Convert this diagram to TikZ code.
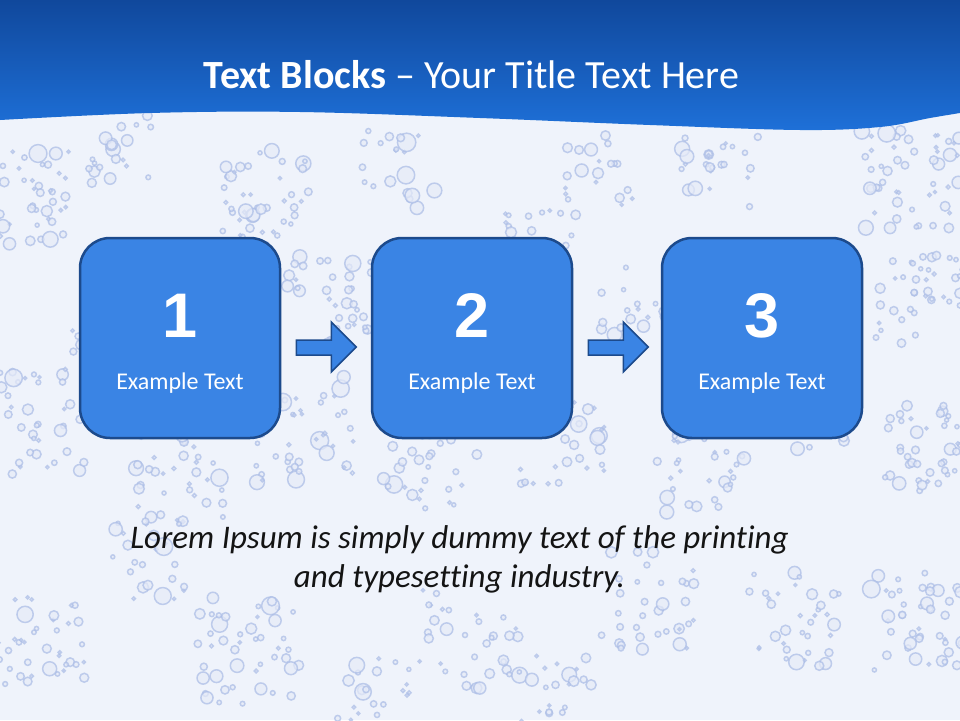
\documentclass[tikz,border=0pt]{standalone}
\usepackage{fontspec}
\setmainfont[Ligatures=NoCommon]{Carlito}
\newfontfamily\digitfont{Liberation Sans}
\usetikzlibrary{calc}
\definecolor{bgcol}{RGB}{239,243,251}
\definecolor{bubcol}{RGB}{170,188,230}
\definecolor{hdrtop}{RGB}{16,72,156}
\definecolor{hdrbot}{RGB}{30,112,216}
\definecolor{boxfill}{RGB}{58,132,228}
\definecolor{boxline}{RGB}{28,74,140}
\definecolor{txtdark}{RGB}{20,20,20}
\tikzset{
  stepbox/.style={draw=boxline, fill=boxfill, line width=2.5pt, rounded corners=30pt,
    minimum width=200pt, minimum height=200pt, inner sep=0pt},
  numlabel/.style={text=white, font=\digitfont\bfseries\fontsize{63}{63}\selectfont, anchor=base, inner sep=0pt},
  boxlabel/.style={text=white, font=\fontsize{24}{28}\selectfont, anchor=base, inner sep=0pt},
  blockarr/.style={draw=boxline, fill=boxfill, line width=1.5pt, line join=miter},
  bubble/.style={draw=bubcol, line width=1.5pt, fill=bubcol!30, opacity=0.7},
}
\newcommand\blockarrow[1]{%
  \draw[blockarr] ($(#1.east)+(15,2)$) -- ($(#1.east)+(50,2)$) -- ($(#1.east)+(50,-16)$)
    -- ($(#1.east)+(75,9)$) -- ($(#1.east)+(50,34)$) -- ($(#1.east)+(50,17)$)
    -- ($(#1.east)+(15,17)$) -- cycle;}
\begin{document}
\begin{tikzpicture}[x=1pt,y=-1pt]
\useasboundingbox (0,0) rectangle (960,720);
\fill[bgcol] (0,0) rectangle (960,720);
% bubbles (background texture)
\pgfmathsetseed{11}
\foreach \cx/\cy/\s/\n in {20/200/50/50, 30/420/55/50, 40/640/45/40, 120/150/35/20,
  180/480/45/35, 260/200/50/45, 330/300/45/35, 300/430/55/45, 250/650/55/45,
  400/170/40/20, 430/460/50/35, 470/640/50/35, 540/250/40/25, 560/440/45/35,
  600/170/35/20, 640/300/40/25, 650/600/50/35, 720/170/40/25, 700/470/45/35,
  790/620/50/35, 820/300/35/20, 910/180/50/50, 920/300/45/40, 930/450/45/45, 920/620/50/45,
  380/700/45/25, 150/560/40/25, 560/700/45/25, 820/420/30/15, 100/330/30/15} {
  \foreach \k in {1,...,\n} {
    \pgfmathsetmacro\bx{\cx+(rand)*\s}
    \pgfmathsetmacro\by{\cy+(rand)*\s}
    \pgfmathsetmacro\br{1.5+rnd*rnd*8}
    \draw[bubble] (\bx,\by) circle[radius=\br pt];
  }
}
% header with wave
\shade[top color=hdrtop, bottom color=hdrbot]
  (0,0) -- (960,0) -- (960,113)
  -- plot[smooth, tension=0.6] coordinates {(960,113) (930,118) (880,127) (800,130) (650,125) (480,118) (300,112) (150,113) (0,120)}
  -- cycle;
\node[text=white, anchor=base, inner sep=0pt, font=\fontsize{40}{44}\selectfont] (title) at (471.5,88)
  {\textbf{Text Blocks} – Your Title Text Here};
% boxes
\node[stepbox] (b1) at (180,338) {};
\node[stepbox] (b2) at (472,338) {};
\node[stepbox] (b3) at (762,338) {};
\foreach \b/\t in {b1/1, b2/2, b3/3} {
  \node[numlabel] (n\b) at ($(\b.center)+(0,-1)$) {\t};
  \node[boxlabel] (l\b) at ($(\b.center)+(0,51)$) {Example Text};
}
\blockarrow{b1}
\blockarrow{b2}
% bottom text
\node[text=txtdark, anchor=base, inner sep=0pt, font=\itshape\fontsize{33}{39}\selectfont] (lorem1) at (459.5,548)
  {Lorem Ipsum is simply dummy text of the printing};
\node[text=txtdark, anchor=base, inner sep=0pt, font=\itshape\fontsize{33}{39}\selectfont] (lorem2) at (459.5,587)
  {and typesetting industry.};
\end{tikzpicture}
\end{document}
